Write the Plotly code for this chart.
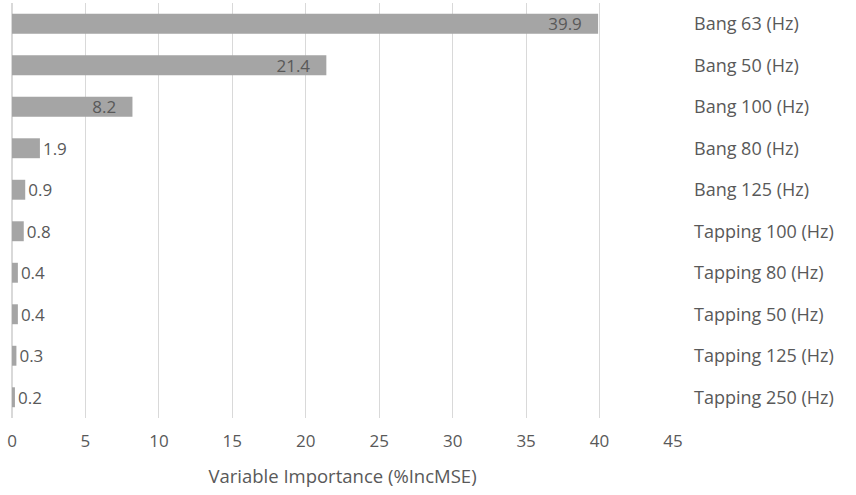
import plotly.graph_objects as go

# variable importance from the random forest
variables = [
    "Bang 63 (Hz)", "Bang 50 (Hz)", "Bang 100 (Hz)", "Bang 80 (Hz)",
    "Bang 125 (Hz)", "Tapping 100 (Hz)", "Tapping 80 (Hz)",
    "Tapping 50 (Hz)", "Tapping 125 (Hz)", "Tapping 250 (Hz)",
]
importance = [39.9, 21.4, 8.2, 1.9, 0.9, 0.8, 0.4, 0.4, 0.3, 0.2]
x_ticks = [0, 5, 10, 15, 20, 25, 30, 35, 40, 45]

FONT = "Open Sans"
GREY_TEXT = "#595959"

# big bars get the label inside at the end, small ones just after the bar
positions = ["inside" if v > 5 else "outside" for v in importance]
labels = [
    f"{v:.1f}" + ("\u00a0" * 3 if p == "inside" else "")
    for v, p in zip(importance, positions)
]

fig = go.Figure(go.Bar(
    x=importance,
    y=variables,
    orientation="h",
    marker_color="#a5a5a5",
    marker_line_width=0,
    width=0.48,
    text=labels,
    textposition=positions,
    insidetextanchor="end",
    textfont=dict(family=FONT, size=17, color=GREY_TEXT),
    constraintext="none",
    cliponaxis=False,
))

fig.update_layout(
    width=856, height=495,
    margin=dict(l=12, r=183, t=3, b=77),
    plot_bgcolor="white",
    paper_bgcolor="white",
    showlegend=False,
    font=dict(family=FONT, size=17, color=GREY_TEXT),
    xaxis=dict(
        range=[0, 45],
        tickvals=x_ticks,
        showgrid=True,
        gridcolor="#d9d9d9",
        gridwidth=1,
        zeroline=True,
        zerolinecolor="#d9d9d9",
        showline=False,
        ticks="",
        ticklabelstandoff=11,
        automargin=False,
        title=dict(text="Variable Importance (%IncMSE)",
                   font=dict(size=18.5), standoff=19),
    ),
    yaxis=dict(
        categoryorder="array",
        categoryarray=variables,
        autorange="reversed",
        side="right",
        showgrid=False,
        showline=False,
        ticks="",
        automargin=False,
        ticklabelstandoff=20,
        tickfont=dict(size=18),
    ),
)

# drop the browser's default body margin so the chart sits at the page corner
fig.write_html("out.html", config={"displayModeBar": False},
               post_script="document.body.style.margin='0';")
